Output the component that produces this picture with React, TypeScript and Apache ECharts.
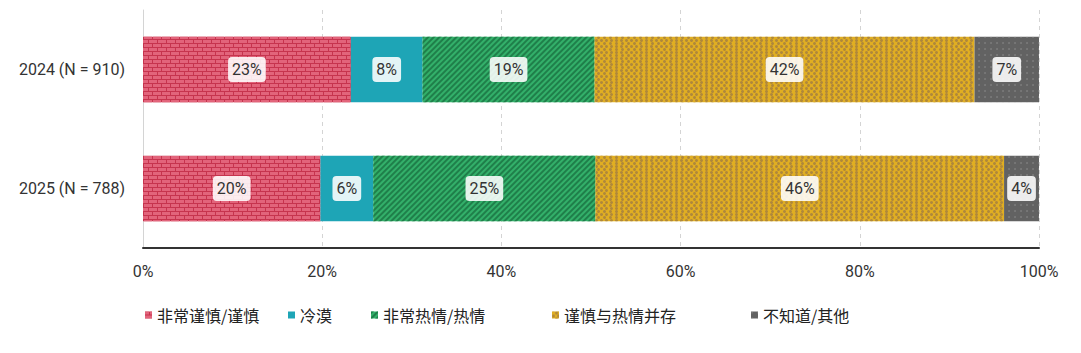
import React, { useEffect, useRef } from "react";
import * as echarts from "echarts";

const categories = ["2024 (N = 910)", "2025 (N = 788)"];
const seriesNames = ["非常谨慎/谨慎", "冷漠", "非常热情/热情", "谨慎与热情并存", "不知道/其他"];
const cautious = [23.2, 19.8];
const indifferent = [8.0, 5.9];
const enthusiastic = [19.2, 24.8];
const mixed = [42.4, 45.6];
const unknown = [7.2, 3.9];
const xTicks = [0, 20, 40, 60, 80, 100];
const legendLefts = [140, 283, 366, 547, 746];

const colors = ["#c6344e", "#1ea5b6", "#33b06a", "#e0ae22", "#626262"];
const decals: any[] = [
  {
    symbol: "rect",
    symbolSize: 1,
    color: "#e2647b",
    dashArrayX: [[8, 1], [4, 1, 4, 0]],
    dashArrayY: [3, 1],
    rotation: 0,
  },
  { symbol: "none", color: "rgba(0,0,0,0)", dashArrayX: [1, 0], dashArrayY: [4, 0] },
  {
    symbol: "rect",
    symbolSize: 1,
    color: "#1f7f4a",
    dashArrayX: [1, 0],
    dashArrayY: [2, 2],
    rotation: -Math.PI / 4,
  },
  {
    symbol: "circle",
    symbolSize: 1,
    color: "#b0883a",
    dashArrayX: [[3, 2], [0, 2.5, 3, 0]],
    dashArrayY: [3, 0],
    rotation: 0,
  },
  {
    symbol: "circle",
    symbolSize: 0.6,
    color: "#9a9a9a",
    dashArrayX: [2, 4],
    dashArrayY: [2, 4],
    rotation: 0,
  },
];

const dataSets = [cautious, indifferent, enthusiastic, mixed, unknown];

export default function App() {
  const ref = useRef<HTMLDivElement>(null);
  useEffect(() => {
    if (!ref.current) return;
    const chart = echarts.init(ref.current, undefined, { renderer: "svg" });
    const font = "Roboto, 'Noto Sans CJK SC', sans-serif";
    chart.setOption({
      animation: false,
      aria: { enabled: false },
      grid: { left: 143, right: 42, top: 10, bottom: 105, containLabel: false },
      legend: seriesNames.map((n, i) => ({
        data: [n],
        left: legendLefts[i],
        top: 302,
        itemWidth: 7,
        itemHeight: 7,
        icon: "rect",
        itemGap: 5,
        selectedMode: false,
        textStyle: { fontSize: 16, color: "#222", fontFamily: "'Noto Sans CJK SC', sans-serif" },
      })),
      xAxis: {
        type: "value",
        min: 0,
        max: 100,
        interval: 20,
        axisLine: { show: true, lineStyle: { color: "#333", width: 2 } },
        axisTick: { show: false },
        axisLabel: {
          formatter: (v: number) => (xTicks.includes(v) ? v + "%" : ""),
          fontSize: 16,
          color: "#333",
          margin: 15,
          fontFamily: font,
        },
        splitLine: { show: true, lineStyle: { color: "#d4d4d4", type: [4, 4], width: 1 } },
      },
      yAxis: {
        type: "category",
        data: categories,
        inverse: true,
        axisLine: { show: true, lineStyle: { color: "#d4d4d4", width: 1 } },
        axisTick: { show: false },
        axisLabel: { fontSize: 16, color: "#333", margin: 18, fontFamily: font },
      },
      series: seriesNames.map((n, i) => ({
        name: n,
        type: "bar",
        stack: "total",
        barWidth: "55%",
        data: dataSets[i],
        itemStyle: { color: colors[i], decal: decals[i] },
        label: {
          show: true,
          position: "inside",
          formatter: (p: any) => Math.round(p.value) + "%",
          fontSize: 16,
          color: "#333",
          fontFamily: font,
          backgroundColor: "rgba(255,255,255,0.88)",
          borderRadius: 4,
          padding: [5, 4, 4, 4],
        },
      })),
    });
    return () => chart.dispose();
  }, []);
  return (
    <div
      ref={ref}
      style={{ position: "fixed", left: 0, top: 0, width: 1081, height: 353, background: "#fff" }}
    />
  );
}
